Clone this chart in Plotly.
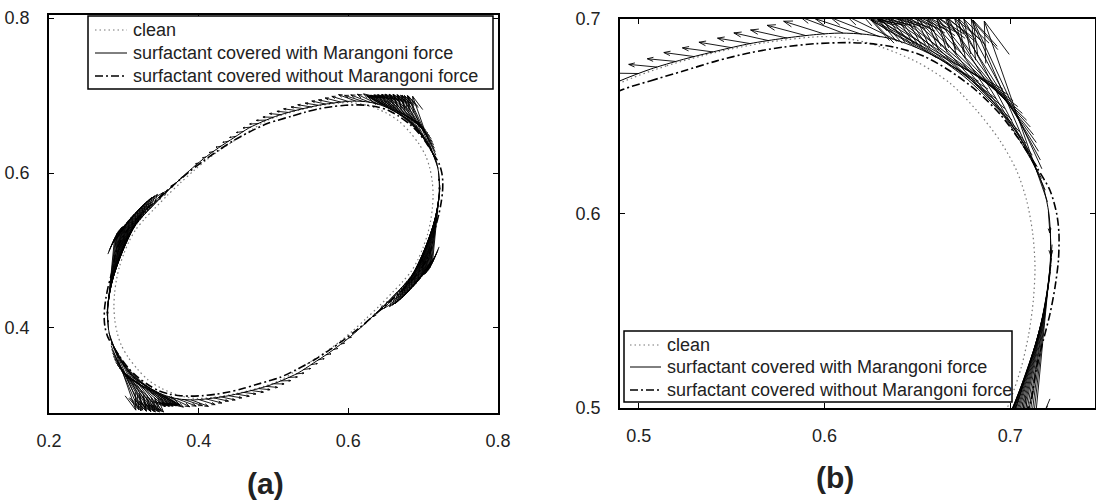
import math
import plotly.graph_objects as go
import plotly.figure_factory as ff

# ---------------- data ----------------
series_names = ["clean",
                "surfactant covered with Marangoni force",
                "surfactant covered without Marangoni force"]

clean_x = [0.4898, 0.5151, 0.5420, 0.5689, 0.6012, 0.6245, 0.6496, 0.6676, 0.6819, 0.6945, 0.7034, 0.7088,
           0.7121, 0.7133, 0.7124, 0.7100, 0.7060, 0.7000,
           0.6930, 0.6840, 0.6720, 0.6591, 0.6420, 0.6236, 0.6060, 0.5880, 0.5680, 0.5480, 0.5290,
           0.5102, 0.4849, 0.4580, 0.4311, 0.3988, 0.3755, 0.3504, 0.3324, 0.3181, 0.3055, 0.2966, 0.2912,
           0.2879, 0.2867, 0.2876, 0.2900, 0.2940, 0.3000,
           0.3070, 0.3160, 0.3280, 0.3409, 0.3580, 0.3764, 0.3940, 0.4120, 0.4320, 0.4520, 0.4710, 0.4898]
clean_y = [0.6670, 0.6760, 0.6830, 0.6880, 0.6910, 0.6875, 0.6780, 0.6670, 0.6530, 0.6374, 0.6221, 0.6067,
           0.5896, 0.5725, 0.5554, 0.5383, 0.5212, 0.5040,
           0.4880, 0.4730, 0.4590, 0.4460, 0.4290, 0.4120, 0.3965, 0.3820, 0.3680, 0.3555, 0.3440,
           0.3330, 0.3240, 0.3170, 0.3120, 0.3090, 0.3125, 0.3220, 0.3330, 0.3470, 0.3626, 0.3779, 0.3933,
           0.4104, 0.4275, 0.4446, 0.4617, 0.4788, 0.4960,
           0.5120, 0.5270, 0.5410, 0.5540, 0.5710, 0.5880, 0.6035, 0.6180, 0.6320, 0.6445, 0.6560, 0.6670]

marangoni_x = [0.4898, 0.5061, 0.5240, 0.5420, 0.5599, 0.5779, 0.5958, 0.6084, 0.6227, 0.6371, 0.6496, 0.6622,
               0.6747, 0.6855, 0.6963, 0.7052, 0.7124, 0.7178, 0.7208, 0.7217, 0.7214, 0.7196, 0.7169, 0.7133,
               0.7088, 0.7043,
               0.6985, 0.6900, 0.6785, 0.6660, 0.6490, 0.6305, 0.6125, 0.5940, 0.5735, 0.5530, 0.5330,
               0.5102, 0.4939, 0.4760, 0.4580, 0.4401, 0.4221, 0.4042, 0.3916, 0.3773, 0.3629, 0.3504, 0.3378,
               0.3253, 0.3145, 0.3037, 0.2948, 0.2876, 0.2822, 0.2792, 0.2783, 0.2786, 0.2804, 0.2831, 0.2867,
               0.2912, 0.2957,
               0.3015, 0.3100, 0.3215, 0.3340, 0.3510, 0.3695, 0.3875, 0.4060, 0.4265, 0.4470, 0.4670, 0.4898]
marangoni_y = [0.6682, 0.6742, 0.6793, 0.6836, 0.6874, 0.6901, 0.6921, 0.6928, 0.6921, 0.6896, 0.6853, 0.6793,
               0.6708, 0.6614, 0.6503, 0.6374, 0.6255, 0.6135, 0.5998, 0.5862, 0.5725, 0.5588, 0.5451, 0.5315,
               0.5178, 0.5040,
               0.4890, 0.4740, 0.4600, 0.4470, 0.4300, 0.4130, 0.3970, 0.3820, 0.3675, 0.3545, 0.3420,
               0.3318, 0.3258, 0.3207, 0.3164, 0.3126, 0.3099, 0.3079, 0.3072, 0.3079, 0.3104, 0.3147, 0.3207,
               0.3292, 0.3386, 0.3497, 0.3626, 0.3745, 0.3865, 0.4002, 0.4138, 0.4275, 0.4412, 0.4549, 0.4685,
               0.4822, 0.4960,
               0.5110, 0.5260, 0.5400, 0.5530, 0.5700, 0.5870, 0.6030, 0.6180, 0.6325, 0.6455, 0.6580, 0.6682]

no_marangoni_x = [0.4917, 0.5061, 0.5240, 0.5420, 0.5599, 0.5779, 0.5958, 0.6137, 0.6245, 0.6389, 0.6532,
                  0.6676, 0.6819, 0.6945, 0.7052, 0.7142, 0.7214, 0.7250, 0.7262, 0.7259, 0.7241, 0.7214,
                  0.7178, 0.7142, 0.7112,
                  0.7050, 0.6960, 0.6840, 0.6700, 0.6520, 0.6330, 0.6140, 0.5945, 0.5740, 0.5530, 0.5300,
                  0.5083, 0.4939, 0.4760, 0.4580, 0.4401, 0.4221, 0.4042, 0.3863, 0.3755, 0.3611, 0.3468,
                  0.3324, 0.3181, 0.3055, 0.2948, 0.2858, 0.2786, 0.2750, 0.2738, 0.2741, 0.2759, 0.2786,
                  0.2822, 0.2858, 0.2888,
                  0.2950, 0.3040, 0.3160, 0.3300, 0.3480, 0.3670, 0.3860, 0.4055, 0.4260, 0.4470, 0.4700, 0.4917]
no_marangoni_y = [0.6639, 0.6682, 0.6733, 0.6785, 0.6827, 0.6856, 0.6874, 0.6879, 0.6874, 0.6853, 0.6810,
                  0.6733, 0.6631, 0.6511, 0.6374, 0.6238, 0.6118, 0.5998, 0.5896, 0.5759, 0.5622, 0.5485,
                  0.5349, 0.5212, 0.5040,
                  0.4890, 0.4745, 0.4605, 0.4470, 0.4310, 0.4150, 0.3995, 0.3850, 0.3710, 0.3580, 0.3460,
                  0.3361, 0.3318, 0.3267, 0.3215, 0.3173, 0.3144, 0.3126, 0.3121, 0.3126, 0.3147, 0.3190,
                  0.3267, 0.3369, 0.3489, 0.3626, 0.3762, 0.3882, 0.4002, 0.4104, 0.4241, 0.4378, 0.4515,
                  0.4651, 0.4788, 0.4960,
                  0.5110, 0.5255, 0.5395, 0.5530, 0.5690, 0.5850, 0.6005, 0.6150, 0.6290, 0.6420, 0.6540, 0.6639]

# interface vectors: tail x, tail y, components u, v
arrow_x = [0.6830, 0.6880, 0.6925, 0.6970, 0.7010, 0.7050, 0.7085, 0.7118, 0.7145, 0.7168, 0.7188, 0.7200,
           0.7205, 0.7215,
           0.7225, 0.7222, 0.7216, 0.7206, 0.7195, 0.7180, 0.7163, 0.7143, 0.7120, 0.7095, 0.7065, 0.7030,
           0.6985, 0.6900, 0.6785, 0.6660, 0.6490, 0.6305,
           0.66, 0.65, 0.64, 0.63, 0.62, 0.61, 0.60, 0.59, 0.58, 0.57, 0.56, 0.55, 0.54, 0.53, 0.52, 0.51,
           0.50, 0.49, 0.48, 0.47, 0.46, 0.45, 0.44, 0.43, 0.42, 0.41, 0.40,
           0.3170, 0.3120, 0.3075, 0.3030, 0.2990, 0.2950, 0.2915, 0.2882, 0.2855, 0.2832, 0.2812, 0.2800,
           0.2795, 0.2785,
           0.2775, 0.2778, 0.2784, 0.2794, 0.2805, 0.2820, 0.2837, 0.2857, 0.2880, 0.2905, 0.2935, 0.2970,
           0.3015, 0.3100, 0.3215, 0.3340, 0.3510, 0.3695,
           0.34, 0.35, 0.36, 0.37, 0.38, 0.39, 0.40, 0.41, 0.42, 0.43, 0.44, 0.45, 0.46, 0.47, 0.48, 0.49,
           0.50, 0.51, 0.52, 0.53, 0.54, 0.55, 0.56, 0.57, 0.58, 0.59, 0.60,
           0.6960, 0.6990, 0.7015, 0.7040, 0.7065, 0.7088, 0.7108, 0.7125, 0.7140, 0.7152, 0.7162, 0.7170,
           0.3040, 0.3010, 0.2985, 0.2960, 0.2935, 0.2912, 0.2892, 0.2875, 0.2860, 0.2848, 0.2838, 0.2830,
           0.7224, 0.7219, 0.7211, 0.7201, 0.7188, 0.7172, 0.7153, 0.7132, 0.7108, 0.7080, 0.7048, 0.7008, 0.6943,
           0.2776, 0.2781, 0.2789, 0.2799, 0.2812, 0.2828, 0.2847, 0.2868, 0.2892, 0.2920, 0.2952, 0.2992, 0.3057]
arrow_y = [0.6680, 0.6640, 0.6590, 0.6540, 0.6480, 0.6420, 0.6360, 0.6300, 0.6240, 0.6180, 0.6120, 0.6060,
           0.6010, 0.5930,
           0.5840, 0.5770, 0.5700, 0.5630, 0.5560, 0.5490, 0.5420, 0.5350, 0.5280, 0.5200, 0.5110, 0.5010,
           0.4890, 0.4740, 0.4600, 0.4470, 0.4300, 0.4130,
           0.6803, 0.6851, 0.6886, 0.6908, 0.6922, 0.6928, 0.6923, 0.6915, 0.6902, 0.6889, 0.6874, 0.6853,
           0.6831, 0.6807, 0.6782, 0.6753, 0.6720, 0.6683, 0.6638, 0.6593, 0.6536, 0.6474, 0.6411, 0.6347,
           0.6279, 0.6208, 0.6131,
           0.3320, 0.3360, 0.3410, 0.3460, 0.3520, 0.3580, 0.3640, 0.3700, 0.3760, 0.3820, 0.3880, 0.3940,
           0.3990, 0.4070,
           0.4160, 0.4230, 0.4300, 0.4370, 0.4440, 0.4510, 0.4580, 0.4650, 0.4720, 0.4800, 0.4890, 0.4990,
           0.5110, 0.5260, 0.5400, 0.5530, 0.5700, 0.5870,
           0.3197, 0.3149, 0.3114, 0.3092, 0.3078, 0.3072, 0.3077, 0.3085, 0.3098, 0.3111, 0.3126, 0.3147,
           0.3169, 0.3193, 0.3218, 0.3247, 0.3280, 0.3317, 0.3362, 0.3407, 0.3464, 0.3526, 0.3589, 0.3653,
           0.3721, 0.3792, 0.3869,
           0.6640, 0.6610, 0.6580, 0.6550, 0.6515, 0.6480, 0.6445, 0.6405, 0.6365, 0.6320, 0.6275, 0.6230,
           0.3360, 0.3390, 0.3420, 0.3450, 0.3485, 0.3520, 0.3555, 0.3595, 0.3635, 0.3680, 0.3725, 0.3770,
           0.5805, 0.5735, 0.5665, 0.5595, 0.5525, 0.5455, 0.5385, 0.5315, 0.5240, 0.5155, 0.5060, 0.4950, 0.4815,
           0.4195, 0.4265, 0.4335, 0.4405, 0.4475, 0.4545, 0.4615, 0.4685, 0.4760, 0.4845, 0.4940, 0.5050, 0.5185]
arrow_u = [-0.0580, -0.0590, -0.0585, -0.0580, -0.0570, -0.0560, -0.0540, -0.0518, -0.0485, -0.0448, -0.0398, -0.0340,
           0.0008, 0.0004,
           -0.0100, -0.0130, -0.0157, -0.0181, -0.0198, -0.0220, -0.0241, -0.0260, -0.0279, -0.0304, -0.0323, -0.0343,
           -0.0360, -0.0348, -0.0304, -0.0238, -0.0158, -0.0089,
           -0.0318, -0.0296, -0.0281, -0.0267, -0.0250, -0.0230, -0.0220, -0.0209, -0.0198, -0.0188, -0.0176, -0.0176,
           -0.0165, -0.0165, -0.0154, -0.0154, -0.0141, -0.0129, -0.0119, -0.0107, -0.0096, -0.0086, -0.0077, -0.0068,
           -0.0058, -0.0049, -0.0041,
           0.0580, 0.0590, 0.0585, 0.0580, 0.0570, 0.0580, 0.0560, 0.0538, 0.0505, 0.0468, 0.0418, 0.0360,
           -0.0008, -0.0004,
           0.0100, 0.0130, 0.0157, 0.0181, 0.0198, 0.0220, 0.0241, 0.0260, 0.0279, 0.0304, 0.0323, 0.0343,
           0.0360, 0.0348, 0.0304, 0.0238, 0.0158, 0.0089,
           0.0318, 0.0296, 0.0281, 0.0267, 0.0250, 0.0230, 0.0220, 0.0209, 0.0198, 0.0188, 0.0176, 0.0176,
           0.0165, 0.0165, 0.0154, 0.0154, 0.0141, 0.0129, 0.0119, 0.0107, 0.0096, 0.0086, 0.0077, 0.0068,
           0.0058, 0.0049, 0.0041,
           -0.0710, -0.0690, -0.0665, -0.0640, -0.0615, -0.0588, -0.0558, -0.0525, -0.0490, -0.0452, -0.0412, -0.0370,
           0.0710, 0.0690, 0.0665, 0.0640, 0.0615, 0.0588, 0.0558, 0.0525, 0.0490, 0.0452, 0.0412, 0.0370,
           -0.0115, -0.0144, -0.0169, -0.0190, -0.0209, -0.0231, -0.0251, -0.0270, -0.0292, -0.0314, -0.0333,
           -0.0352, -0.0354,
           0.0115, 0.0144, 0.0169, 0.0190, 0.0209, 0.0231, 0.0251, 0.0270, 0.0292, 0.0314, 0.0333, 0.0352, 0.0354]
arrow_v = [0.0315, 0.0360, 0.0415, 0.0470, 0.0530, 0.0595, 0.0655, 0.0715, 0.0770, 0.0825, 0.0880, 0.0930,
           -0.0110, -0.0150,
           -0.0995, -0.0991, -0.0967, -0.0933, -0.0878, -0.0852, -0.0826, -0.0799, -0.0771, -0.0740, -0.0698, -0.0645,
           -0.0577, -0.0464, -0.0345, -0.0243, -0.0153, -0.0080,
           0.0200, 0.0170, 0.0130, 0.0100, 0.0080, 0.0083, 0.0066, 0.0053, 0.0042, 0.0040, 0.0028, 0.0028,
           0.0021, 0.0021, 0.0014, 0.0014, 0.0002, -0.0004, -0.0006, -0.0011, -0.0013, -0.0015, -0.0015, -0.0014,
           -0.0014, -0.0012, -0.0011,
           -0.0315, -0.0360, -0.0415, -0.0470, -0.0530, -0.0665, -0.0725, -0.0785, -0.0840, -0.0895, -0.0950, -0.1000,
           0.0110, 0.0150,
           0.0995, 0.0991, 0.0967, 0.0933, 0.0878, 0.0852, 0.0826, 0.0799, 0.0771, 0.0740, 0.0698, 0.0645,
           0.0577, 0.0464, 0.0345, 0.0243, 0.0153, 0.0080,
           -0.0200, -0.0170, -0.0130, -0.0100, -0.0080, -0.0083, -0.0066, -0.0053, -0.0042, -0.0040, -0.0028, -0.0028,
           -0.0021, -0.0021, -0.0014, -0.0014, -0.0002, 0.0004, 0.0006, 0.0011, 0.0013, 0.0015, 0.0015, 0.0014,
           0.0014, 0.0012, 0.0011,
           0.0360, 0.0395, 0.0430, 0.0460, 0.0500, 0.0535, 0.0570, 0.0610, 0.0645, 0.0685, 0.0725, 0.0765,
           -0.0360, -0.0395, -0.0430, -0.0460, -0.0500, -0.0595, -0.0630, -0.0670, -0.0705, -0.0745, -0.0785, -0.0825,
           -0.0993, -0.0979, -0.0950, -0.0906, -0.0865, -0.0839, -0.0813, -0.0785, -0.0756, -0.0719, -0.0672,
           -0.0611, -0.0521,
           0.0993, 0.0979, 0.0950, 0.0906, 0.0865, 0.0839, 0.0813, 0.0785, 0.0756, 0.0719, 0.0672, 0.0611, 0.0521]

xticks_a = [0.2, 0.4, 0.6, 0.8]
yticks_a = [0.4, 0.6, 0.8]
xticks_b = [0.5, 0.6, 0.7]
yticks_b = [0.5, 0.6, 0.7]
panel_labels = ["(a)", "(b)"]

# ---------------- figure ----------------
W, H = 1096, 500
FONT = "Liberation Sans, Arial, Helvetica, sans-serif"
TXT = "#222222"


def px_x(p):
    return p / W


def px_y(p):
    return 1 - p / H


quiv = ff.create_quiver(arrow_x, arrow_y, arrow_u, arrow_v, scale=1.0, arrow_scale=0.22,
                        angle=math.pi / 10, scaleratio=1.0,
                        line=dict(color="black", width=0.9), showlegend=False, hoverinfo="skip")
qtrace = quiv.data[0]

styles = [
    dict(color="#777777", width=1.2, dash="1.5px,3px"),
    dict(color="black", width=1.0, dash="solid"),
    dict(color="black", width=1.6, dash="8px,3px,2px,3px"),
]
curves = [(clean_x, clean_y), (marangoni_x, marangoni_y), (no_marangoni_x, no_marangoni_y)]

fig = go.Figure()
for xa, ya in [("x", "y"), ("x2", "y2")]:
    fig.add_trace(go.Scatter(x=list(qtrace.x), y=list(qtrace.y), mode="lines",
                             line=dict(color="black", width=0.9), showlegend=False,
                             hoverinfo="skip", xaxis=xa, yaxis=ya))
    for (cx, cy), name, st in zip(curves, series_names, styles):
        fig.add_trace(go.Scatter(x=cx, y=cy, mode="lines", name=name,
                                 line=dict(color=st["color"], width=st["width"], dash=st["dash"],
                                           shape="spline", smoothing=0.8),
                                 xaxis=xa, yaxis=ya, showlegend=False))

axis_common = dict(showline=True, linecolor="black", linewidth=1.6, mirror="ticks",
                   ticks="inside", ticklen=5, tickwidth=1, tickcolor="black",
                   showgrid=False, zeroline=False, automargin=False,
                   tickfont=dict(family=FONT, size=18, color=TXT))

# legend boxes drawn in pixel positions (box px, sample x px, text x px, row y px)
legend_boxes = [
    dict(box=(88, 16, 493, 89), sx=(95, 127), tx=131, rows=(30, 53, 76)),
    dict(box=(624, 331, 1012, 402), sx=(630, 661), tx=665, rows=(345, 367, 390)),
]
shapes = []
annotations = []
for lb in legend_boxes:
    x0, y0, x1, y1 = lb["box"]
    shapes.append(dict(type="rect", xref="paper", yref="paper",
                       x0=px_x(x0), x1=px_x(x1), y0=px_y(y1), y1=px_y(y0),
                       line=dict(color="black", width=1.5), fillcolor="white", layer="above"))
    for name, st, ry in zip(series_names, styles, lb["rows"]):
        shapes.append(dict(type="line", xref="paper", yref="paper",
                           x0=px_x(lb["sx"][0]), x1=px_x(lb["sx"][1]), y0=px_y(ry), y1=px_y(ry),
                           line=dict(color=st["color"], width=st["width"], dash=st["dash"]),
                           layer="above"))
        annotations.append(dict(text=name, x=px_x(lb["tx"]), y=px_y(ry), xref="paper", yref="paper",
                                showarrow=False, xanchor="left", yanchor="middle",
                                font=dict(family=FONT, size=18, color=TXT)))

annotations += [
    dict(text="<b>" + panel_labels[0] + "</b>", x=px_x(265), y=px_y(483), xref="paper", yref="paper",
         showarrow=False, xanchor="center", yanchor="middle", font=dict(family=FONT, size=30, color=TXT)),
    dict(text="<b>" + panel_labels[1] + "</b>", x=px_x(835), y=px_y(477), xref="paper", yref="paper",
         showarrow=False, xanchor="center", yanchor="middle", font=dict(family=FONT, size=30, color=TXT)),
]

fig.update_layout(
    width=W, height=H,
    margin=dict(l=0, r=0, t=0, b=0, autoexpand=False),
    paper_bgcolor="white", plot_bgcolor="white",
    showlegend=False,
    xaxis=dict(domain=[px_x(49), px_x(498)], range=[0.19995, 0.80005], anchor="y",
               tickvals=xticks_a, ticktext=[f"{v:.1f}" for v in xticks_a],
               ticklabelstandoff=11, **axis_common),
    yaxis=dict(domain=[px_y(413), px_y(15)], range=[0.2903, 0.8039], anchor="x",
               tickvals=yticks_a, ticktext=[f"{v:.1f}" for v in yticks_a],
               ticklabelstandoff=14, **axis_common),
    xaxis2=dict(domain=[px_x(620), px_x(1095)], range=[0.4899, 0.7456], anchor="y2",
                tickvals=xticks_b, ticktext=[f"{v:.1f}" for v in xticks_b],
                ticklabelstandoff=11, **axis_common),
    yaxis2=dict(domain=[px_y(408), px_y(19)], range=[0.49995, 0.70005], anchor="x2",
                tickvals=yticks_b, ticktext=[f"{v:.1f}" for v in yticks_b],
                ticklabelstandoff=14, **axis_common),
    shapes=shapes,
    annotations=annotations,
)

fig.write_html("out.html")
